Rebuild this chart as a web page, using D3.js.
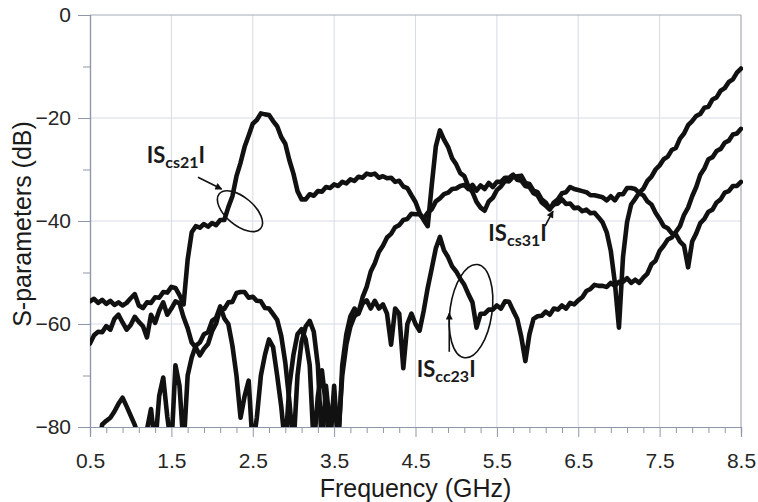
<!DOCTYPE html>
<html>
<head>
<meta charset="utf-8">
<script src="https://cdn.jsdelivr.net/npm/d3@7"></script>
<style>
  body { margin: 0; background: #fff; }
  svg { display: block; }
</style>
</head>
<body>
<svg id="chart" width="758" height="502"></svg>
<script>
// Measured sweep: 0.5 to 8.5 GHz, 0.05 GHz step
const freqStart = 0.5;
const freqStep = 0.05;

// |Scs21| (dB)
const scs21 = [
  -55.6,-55.1,-55.9,-55.3,-56.1,-55.5,-56.3,-55.8,-56.4,-55.9,
  -55.0,-54.2,-56.4,-56.9,-55.8,-55.9,-54.8,-54.9,-53.8,-53.9,
  -52.8,-53.0,-54.4,-56.2,-47.5,-42.2,-41.0,-41.3,-40.6,-41.1,
  -40.4,-40.8,-39.8,-39.8,-37.3,-35.2,-31.3,-28.7,-25.6,-23.4,
  -21.1,-20.4,-19.1,-19.3,-19.4,-20.6,-21.6,-23.7,-25.0,-28.2,
  -30.8,-34.2,-35.8,-35.8,-34.8,-35.1,-34.2,-34.3,-33.4,-33.6,
  -32.9,-33.2,-32.4,-32.7,-31.9,-32.2,-31.4,-31.6,-30.8,-31.0,
  -30.8,-31.6,-31.3,-31.7,-31.6,-32.4,-32.2,-33.3,-33.6,-35.0,
  -36.3,-38.4,-39.8,-41.0,-33.0,-25.5,-22.4,-24.2,-25.6,-27.8,
  -29.0,-30.7,-31.3,-33.3,-34.4,-36.3,-37.4,-38.0,-36.2,-35.5,
  -34.0,-33.3,-32.2,-32.3,-31.4,-31.3,-31.2,-32.6,-32.8,-34.1,
  -34.4,-35.8,-36.4,-37.6,-36.8,-36.6,-35.8,-36.7,-36.6,-37.5,
  -37.4,-38.1,-37.8,-38.5,-38.4,-39.3,-40.3,-42.2,-45.8,-52.0,
  -60.7,-47.0,-40.2,-36.8,-35.7,-34.5,-33.7,-32.2,-31.4,-30.0,
  -29.2,-28.0,-27.5,-26.2,-25.8,-24.0,-23.0,-21.4,-20.6,-19.6,
  -19.2,-18.0,-17.8,-16.4,-16.0,-14.7,-14.2,-13.0,-12.5,-11.2,
  -10.4
];

// |Scs31| (dB)
const scs31 = [
  -63.8,-62.2,-61.5,-61.6,-60.4,-61.1,-59.0,-58.2,-59.7,-61.1,
  -60.2,-58.6,-59.6,-60.4,-62.6,-58.2,-59.8,-57.4,-55.8,-58.2,
  -57.0,-55.6,-56.0,-58.7,-60.8,-63.6,-64.6,-66.1,-64.8,-63.9,
  -61.4,-59.9,-57.0,-57.1,-55.8,-55.7,-54.0,-53.8,-53.8,-54.9,
  -54.7,-55.5,-55.6,-56.9,-57.0,-58.1,-59.2,-62.3,-67.5,-75.0,
  -84.0,-70.0,-63.5,-60.5,-59.4,-61.5,-68.0,-84.0,-72.0,-80.0,
  -74.0,-82.0,-70.0,-64.0,-60.5,-58.5,-57.8,-54.8,-52.8,-49.8,
  -48.2,-46.0,-44.8,-43.2,-42.5,-41.2,-40.8,-39.8,-39.6,-38.6,
  -38.7,-38.7,-39.5,-38.4,-37.7,-36.2,-35.6,-34.8,-34.5,-33.8,
  -33.7,-33.2,-33.0,-33.8,-33.0,-34.1,-33.1,-33.8,-32.6,-33.4,
  -32.4,-32.4,-31.6,-31.6,-31.0,-32.0,-32.2,-33.2,-33.4,-34.6,
  -35.0,-36.4,-37.0,-37.8,-36.4,-35.8,-34.6,-34.4,-33.4,-33.8,
  -34.0,-34.2,-34.4,-35.0,-35.0,-35.2,-35.4,-36.0,-35.2,-36.0,
  -34.8,-34.8,-33.6,-33.6,-33.8,-34.6,-35.0,-36.2,-36.8,-38.4,
  -39.6,-41.0,-41.4,-42.4,-42.6,-44.0,-44.8,-49.0,-44.0,-42.4,
  -40.4,-39.6,-38.2,-37.8,-36.4,-35.8,-34.5,-34.2,-33.2,-33.2,
  -32.4
];

// |Scc23| (dB)
const scc23 = [
  -86.0,-86.0,-84.0,-79.5,-78.8,-78.2,-77.0,-75.5,-74.3,-76.0,
  -77.8,-79.6,-82.0,-86.0,-80.5,-76.5,-84.0,-74.0,-70.4,-78.0,
  -84.0,-68.0,-72.0,-84.0,-70.0,-66.5,-64.2,-63.6,-62.0,-61.6,
  -59.4,-58.8,-56.6,-58.9,-60.0,-64.2,-70.0,-78.2,-74.0,-71.0,
  -84.0,-78.2,-70.0,-66.0,-63.0,-64.5,-70.0,-76.0,-84.0,-72.0,
  -66.0,-62.0,-61.0,-63.0,-68.0,-84.0,-74.0,-69.0,-76.0,-84.0,
  -72.0,-84.0,-68.0,-62.0,-58.5,-57.0,-58.0,-56.0,-55.4,-57.0,
  -55.5,-57.0,-56.2,-58.0,-64.0,-57.0,-58.0,-68.6,-60.0,-58.0,
  -60.0,-61.3,-57.5,-53.0,-49.2,-45.3,-43.1,-45.7,-47.0,-48.8,
  -49.8,-51.2,-52.4,-54.2,-55.8,-60.7,-58.0,-58.0,-57.2,-57.2,
  -56.4,-57.0,-55.6,-55.7,-57.4,-59.0,-62.5,-67.2,-62.0,-59.0,
  -58.5,-58.4,-57.6,-58.2,-57.0,-57.2,-56.4,-57.0,-55.9,-56.2,
  -55.4,-54.8,-53.6,-53.2,-52.4,-52.6,-52.6,-52.8,-52.0,-52.6,
  -51.8,-51.8,-51.1,-52.0,-51.4,-52.0,-51.0,-50.2,-48.4,-47.7,
  -45.8,-44.8,-43.6,-43.2,-42.1,-41.0,-38.8,-37.4,-35.2,-33.4,
  -31.0,-29.8,-28.0,-27.6,-26.4,-26.0,-24.8,-24.4,-23.2,-23.0,
  -22.1
];

const xTicks = [0.5, 1.5, 2.5, 3.5, 4.5, 5.5, 6.5, 7.5, 8.5];
const xMinorTicks = [0.7, 0.9, 1.1, 1.3, 1.7, 1.9, 2.1, 2.3, 2.7, 2.9, 3.1, 3.3,
  3.7, 3.9, 4.1, 4.3, 4.7, 4.9, 5.1, 5.3, 5.7, 5.9, 6.1, 6.3, 6.7, 6.9, 7.1, 7.3,
  7.7, 7.9, 8.1, 8.3];
const yTicks = [0, -20, -40, -60, -80];
const yMinorTicks = [-10, -30, -50, -70];

const freq = scs21.map((_, i) => +(freqStart + i * freqStep).toFixed(2));

// Callouts in data coordinates
const labels = [
  { main: "IS", sub: "cs21", f: 1.197, db: -28.7 },
  { main: "IS", sub: "cs31", f: 5.395, db: -43.9 },
  { main: "IS", sub: "cc23", f: 4.515, db: -70.2 }
];
const arrows = [
  { f1: 1.827, db1: -31.5, f2: 2.118, db2: -33.8 },
  { f1: 6.092, db1: -41.0, f2: 6.190, db2: -38.1 },
  { f1: 4.915, db1: -65.4, f2: 4.915, db2: -57.9 }
];
const rings = [
  { f: 2.343, db: -38.1, rx: 27, ry: 14, angle: 40 },
  { f: 5.182, db: -57.5, rx: 21, ry: 47, angle: 8 }
];

const W = 758, H = 502;
const margin = { top: 15, right: 17, bottom: 75, left: 90 };
const innerW = W - margin.left - margin.right;
const innerH = H - margin.top - margin.bottom;

const svg = d3.select("#chart");
const defs = svg.append("defs");
const g = svg.append("g").attr("transform", `translate(${margin.left},${margin.top})`);

const x = d3.scaleLinear().domain([0.5, 8.5]).range([0, innerW]);
const y = d3.scaleLinear().domain([-80, 0]).range([innerH, 0]);

const gridColor = "#d6dbe4";
const axisColor = "#8e97a8";

// grid
g.append("g").selectAll("line")
  .data(xTicks.slice(1, -1)).join("line")
  .attr("x1", d => x(d)).attr("x2", d => x(d))
  .attr("y1", 0).attr("y2", innerH)
  .attr("stroke", gridColor).attr("stroke-width", 1);
g.append("g").selectAll("line")
  .data(yTicks.slice(1, -1)).join("line")
  .attr("x1", 0).attr("x2", innerW)
  .attr("y1", d => y(d)).attr("y2", d => y(d))
  .attr("stroke", gridColor).attr("stroke-width", 1);

// frame top & right
g.append("line").attr("x1", 0).attr("x2", innerW).attr("y1", 0).attr("y2", 0)
  .attr("stroke", "#a3a9b4").attr("stroke-width", 1.2);
g.append("line").attr("x1", innerW).attr("x2", innerW).attr("y1", 0).attr("y2", innerH)
  .attr("stroke", "#a3a9b4").attr("stroke-width", 1.2);

// axes
const tickFont = "'Liberation Sans', Arial, sans-serif";
const xAxis = g.append("g").attr("transform", `translate(0,${innerH})`)
  .call(d3.axisBottom(x).tickValues(xTicks).tickFormat(d3.format(".1f")).tickSize(10).tickPadding(16));
const xMinor = g.append("g").attr("transform", `translate(0,${innerH})`)
  .call(d3.axisBottom(x).tickValues(xMinorTicks).tickFormat("").tickSize(6));
const yAxis = g.append("g")
  .call(d3.axisLeft(y).tickValues(yTicks).tickFormat(d3.format("d")).tickSize(12).tickPadding(7));
const yMinor = g.append("g")
  .call(d3.axisLeft(y).tickValues(yMinorTicks).tickFormat("").tickSize(7));

[xAxis, xMinor, yAxis, yMinor].forEach(a => {
  a.select(".domain").attr("stroke", axisColor).attr("stroke-width", 1.2);
  a.selectAll(".tick line").attr("stroke", axisColor).attr("stroke-width", 1);
  a.selectAll(".tick text").attr("fill", "#262626")
    .style("font-family", tickFont).style("font-size", "21px");
});

// curves
defs.append("clipPath").attr("id", "plotClip")
  .append("rect").attr("x", 0).attr("y", -4).attr("width", innerW + 2).attr("height", innerH + 4);

const line = d3.line().x((d, i) => x(freq[i])).y(d => y(d));
const curveG = g.append("g").attr("clip-path", "url(#plotClip)");
[scs21, scs31, scc23].forEach(series => {
  curveG.append("path").datum(series)
    .attr("d", line)
    .attr("fill", "none")
    .attr("stroke", "#111")
    .attr("stroke-width", 4.6)
    .attr("stroke-linejoin", "round")
    .attr("stroke-linecap", "round");
});

// arrowhead
defs.append("marker")
  .attr("id", "head").attr("viewBox", "0 0 10 10")
  .attr("refX", 9).attr("refY", 5)
  .attr("markerWidth", 9).attr("markerHeight", 7)
  .attr("markerUnits", "userSpaceOnUse")
  .attr("orient", "auto")
  .append("path").attr("d", "M0,0 L10,5 L0,10 z").attr("fill", "#111");

g.selectAll("line.arrow").data(arrows).join("line")
  .attr("class", "arrow")
  .attr("x1", d => x(d.f1)).attr("y1", d => y(d.db1))
  .attr("x2", d => x(d.f2)).attr("y2", d => y(d.db2))
  .attr("stroke", "#111").attr("stroke-width", 1.6)
  .attr("marker-end", "url(#head)");

g.selectAll("ellipse.ring").data(rings).join("ellipse")
  .attr("class", "ring")
  .attr("transform", d => `translate(${x(d.f)},${y(d.db)}) rotate(${d.angle})`)
  .attr("rx", d => d.rx).attr("ry", d => d.ry)
  .attr("fill", "none").attr("stroke", "#111").attr("stroke-width", 1.6);

const labelFont = "Lato, 'Open Sans', sans-serif";
labels.forEach(d => {
  const t = g.append("text")
    .attr("x", x(d.f)).attr("y", y(d.db))
    .attr("fill", "#1a1a1a")
    .style("font-family", labelFont).style("font-weight", "bold")
    .style("font-size", "22px");
  t.append("tspan").text(d.main);
  t.append("tspan").attr("dy", 5).style("font-size", "16px").text(d.sub);
  t.append("tspan").attr("dy", -5).text("I");
});

// axis titles
svg.append("text")
  .attr("x", margin.left + innerW / 2).attr("y", 497)
  .attr("text-anchor", "middle")
  .attr("fill", "#1a1a1a")
  .style("font-family", tickFont).style("font-size", "25px")
  .text("Frequency (GHz)");
svg.append("text")
  .attr("transform", `translate(31,${margin.top + innerH / 2 + 3}) rotate(-90)`)
  .attr("text-anchor", "middle")
  .attr("fill", "#1a1a1a")
  .style("font-family", tickFont).style("font-size", "25px")
  .text("S-parameters (dB)");
</script>
</body>
</html>
